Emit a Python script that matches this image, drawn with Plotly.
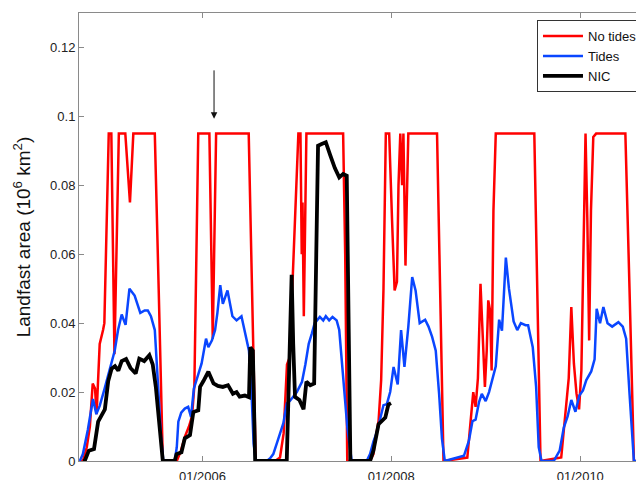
import plotly.graph_objects as go

# ---- data ----
nt_dates = [
    "2004-09-14", "2004-09-26", "2004-10-11", "2004-10-23", "2004-11-03", "2004-11-12", "2004-11-18",
    "2004-11-26", "2004-11-30", "2004-12-13", "2004-12-18", "2005-01-04", "2005-01-14", "2005-01-26",
    "2005-02-12", "2005-03-09", "2005-03-27", "2005-04-09", "2005-07-01", "2005-07-16", "2005-08-01",
    "2005-09-24", "2005-10-10", "2005-10-25", "2005-11-10", "2005-11-22", "2005-12-01", "2005-12-16",
    "2006-01-28", "2006-02-10", "2006-02-23", "2006-06-29", "2006-07-12", "2006-07-26",
    "2006-10-09", "2006-10-28", "2006-11-11", "2006-11-24", "2006-12-04", "2007-01-07", "2007-01-15",
    "2007-01-20", "2007-01-23", "2007-01-28", "2007-02-07", "2007-06-29", "2007-07-07", "2007-07-15",
    "2007-10-11", "2007-10-24", "2007-10-31", "2007-11-13", "2007-11-23", "2007-12-02", "2007-12-11",
    "2007-12-24", "2008-01-04", "2008-01-14", "2008-01-23", "2008-01-29", "2008-02-05", "2008-02-12",
    "2008-02-17", "2008-02-25", "2008-03-01", "2008-03-07", "2008-06-26", "2008-07-09", "2008-07-21",
    "2008-10-21", "2008-11-02", "2008-11-13", "2008-11-22", "2008-12-01", "2008-12-11", "2008-12-20",
    "2008-12-28", "2009-01-04", "2009-01-10", "2009-01-17", "2009-01-23", "2009-01-30", "2009-02-08",
    "2009-07-07", "2009-07-19", "2009-07-31",
    "2009-10-19", "2009-11-08", "2009-11-17", "2009-11-27", "2009-12-07", "2009-12-17", "2009-12-27",
    "2010-01-05", "2010-01-14", "2010-01-21", "2010-01-28", "2010-02-04", "2010-02-11", "2010-02-20",
    "2010-03-03", "2010-06-24", "2010-07-10", "2010-07-27", "2010-09-03",
]
nt_vals = [
    0, 0, 0.004, 0.010, 0.0225, 0.021, 0.0136,
    0.025, 0.034, 0.038, 0.040, 0.095, 0.095, 0.031,
    0.095, 0.095, 0.075, 0.095, 0.095, 0.050, 0,
    0, 0.003, 0.007, 0.010, 0.013, 0.022, 0.095,
    0.095, 0.0355, 0.095, 0.095, 0.050, 0,
    0, 0.001, 0.008, 0.028, 0.030, 0.095, 0.095,
    0.060, 0.075, 0.042, 0.095, 0.095, 0.060, 0,
    0, 0.002, 0.006, 0.0116, 0.0235, 0.050, 0.095,
    0.095, 0.070, 0.0495, 0.052, 0.080, 0.095, 0.080,
    0.095, 0.0567, 0.075, 0.095, 0.095, 0.050, 0,
    0.001, 0.010, 0.020, 0.0157, 0.024, 0.0514, 0.034,
    0.0215, 0.032, 0.0466, 0.0437, 0.0263, 0.0726, 0.095,
    0.095, 0.050, 0,
    0.001, 0.0167, 0.024, 0.0447, 0.0283, 0.0196, 0.015,
    0.0263, 0.068, 0.095, 0.070, 0.035, 0.0726, 0.094,
    0.095, 0.095, 0.050, 0, 0,
]

td_dates = [
    "2004-09-14", "2004-09-26", "2004-10-15", "2004-11-04", "2004-11-17", "2004-11-30", "2004-12-19",
    "2005-01-07", "2005-01-27", "2005-02-09", "2005-02-23", "2005-03-10", "2005-03-25", "2005-04-14",
    "2005-05-06", "2005-05-23", "2005-06-04", "2005-06-16", "2005-07-01", "2005-07-12", "2005-07-25",
    "2005-08-03",
    "2005-09-16", "2005-09-24", "2005-09-30", "2005-10-11", "2005-10-25", "2005-11-07", "2005-11-18",
    "2005-11-29", "2005-12-16", "2005-12-29", "2006-01-15", "2006-01-24", "2006-02-07", "2006-02-19",
    "2006-02-28", "2006-03-11", "2006-03-21", "2006-04-08", "2006-04-27", "2006-05-13", "2006-06-01",
    "2006-06-18", "2006-06-30", "2006-07-10", "2006-07-18", "2006-07-26",
    "2006-09-07", "2006-09-20", "2006-10-02", "2006-10-15", "2006-10-28", "2006-11-10", "2006-11-23",
    "2006-12-06", "2007-01-01", "2007-01-21", "2007-02-03", "2007-02-16", "2007-02-28", "2007-03-11",
    "2007-03-31", "2007-04-13", "2007-04-23", "2007-05-06", "2007-05-19", "2007-06-04", "2007-06-14",
    "2007-06-29", "2007-07-15", "2007-08-01",
    "2007-09-28", "2007-10-11", "2007-10-24", "2007-11-07", "2007-11-19", "2007-12-02", "2007-12-15",
    "2007-12-28", "2008-01-10", "2008-01-26", "2008-02-08", "2008-02-21", "2008-03-07", "2008-03-22",
    "2008-04-04", "2008-04-20", "2008-05-11", "2008-05-24", "2008-06-07", "2008-06-21", "2008-07-04",
    "2008-07-15", "2008-07-26",
    "2008-09-10", "2008-10-08", "2008-10-27", "2008-11-10", "2008-11-22", "2008-12-05", "2008-12-16",
    "2008-12-31", "2009-01-13", "2009-01-26", "2009-02-08", "2009-02-21", "2009-03-04", "2009-03-19",
    "2009-03-31", "2009-04-18", "2009-05-02", "2009-05-16", "2009-06-03", "2009-06-13", "2009-07-01",
    "2009-07-14", "2009-07-24", "2009-08-04",
    "2009-09-20", "2009-10-13", "2009-10-29", "2009-11-13", "2009-11-27", "2009-12-13", "2009-12-28",
    "2010-01-11", "2010-01-24", "2010-02-12", "2010-02-25", "2010-03-05", "2010-03-18", "2010-03-31",
    "2010-04-16", "2010-05-04", "2010-05-28", "2010-06-14", "2010-06-27", "2010-07-10", "2010-07-21",
    "2010-07-27", "2010-09-03",
]
td_vals = [
    0, 0.002, 0.009, 0.018, 0.0136, 0.016, 0.021,
    0.026, 0.032, 0.038, 0.0425, 0.0395, 0.050, 0.048,
    0.043, 0.0437, 0.0437, 0.042, 0.038, 0.024, 0.007,
    0,
    0, 0.004, 0.0114, 0.014, 0.0152, 0.0157, 0.0128,
    0.021, 0.0254, 0.0283, 0.0355, 0.033, 0.035, 0.038,
    0.043, 0.051, 0.0456, 0.0495, 0.042, 0.0408, 0.042,
    0.036, 0.032, 0.0196, 0.005, 0,
    0, 0.0008, 0.002, 0.005, 0.008, 0.011, 0.0167,
    0.0175, 0.020, 0.023, 0.028, 0.034, 0.037, 0.040,
    0.0418, 0.0408, 0.042, 0.0408, 0.0418, 0.0408, 0.038,
    0.0245, 0.010, 0,
    0, 0.002, 0.0056, 0.0085, 0.0124, 0.0162, 0.0165,
    0.0201, 0.0273, 0.0222, 0.038, 0.0273, 0.039, 0.0534,
    0.0495, 0.040, 0.041, 0.039, 0.036, 0.032, 0.0195,
    0.0065, 0,
    0.001, 0.0015, 0.0058, 0.0116, 0.012, 0.017, 0.0195,
    0.0174, 0.020, 0.024, 0.0275, 0.041, 0.0378, 0.059,
    0.050, 0.0405, 0.038, 0.040, 0.0394, 0.0394, 0.033,
    0.0215, 0.004, 0,
    0, 0.003, 0.0097, 0.013, 0.0177, 0.0143, 0.019,
    0.0205, 0.0235, 0.026, 0.0295, 0.0442, 0.040, 0.0447,
    0.040, 0.039, 0.0403, 0.039, 0.0355, 0.0196, 0.005,
    0, 0,
]

nic_dates = [
    "2004-09-26", "2004-10-03", "2004-10-19", "2004-11-08", "2004-11-24", "2004-12-07", "2004-12-20",
    "2005-01-02", "2005-01-15", "2005-01-28", "2005-02-10", "2005-02-23", "2005-03-12", "2005-03-29",
    "2005-04-18", "2005-05-02", "2005-05-21", "2005-06-10", "2005-06-23", "2005-07-05", "2005-07-18",
    "2005-08-01",
    "2005-09-16", "2005-09-23", "2005-10-12", "2005-10-25", "2005-11-14", "2005-11-27", "2005-12-16",
    "2005-12-23", "2006-01-05", "2006-01-24", "2006-02-13", "2006-03-02", "2006-03-21", "2006-04-10",
    "2006-04-29", "2006-05-13", "2006-05-25", "2006-06-14", "2006-06-30", "2006-07-05", "2006-07-15",
    "2006-07-24",
    "2006-11-23", "2006-12-03", "2006-12-12", "2006-12-18", "2006-12-25", "2007-01-11", "2007-01-27",
    "2007-02-07", "2007-02-22", "2007-03-09", "2007-03-18", "2007-03-24", "2007-04-07", "2007-04-23",
    "2007-05-09", "2007-05-28", "2007-06-14", "2007-06-29", "2007-07-13", "2007-07-19", "2007-07-27",
    "2007-10-11", "2007-10-24", "2007-11-13", "2007-11-26", "2007-12-09", "2007-12-15", "2007-12-21",
    "2007-12-31",
]
nic_vals = [
    0, 0, 0.003, 0.0035, 0.0114, 0.0135, 0.015,
    0.0232, 0.0268, 0.0275, 0.0262, 0.029, 0.0296, 0.027,
    0.0254, 0.0297, 0.029, 0.0307, 0.028, 0.0215, 0.010,
    0,
    0, 0.002, 0.0025, 0.0066, 0.0075, 0.0142, 0.0147,
    0.0215, 0.0232, 0.0259, 0.0225, 0.0218, 0.0215, 0.022,
    0.0195, 0.020, 0.0187, 0.019, 0.0185, 0.033, 0.032,
    0,
    0, 0.024, 0.054, 0.034, 0.0186, 0.0177, 0.015,
    0.023, 0.022, 0.0225, 0.063, 0.0915, 0.092, 0.0925,
    0.089, 0.085, 0.0823, 0.0833, 0.0828, 0.053, 0,
    0, 0.003, 0.0107, 0.0116, 0.0126, 0.0145, 0.0164,
    0.0168,
]

x_tick_vals = ["2006-01-01", "2008-01-01", "2010-01-01"]
x_tick_text = ["01/2006", "01/2008", "01/2010"]
y_tick_vals = [0, 0.02, 0.04, 0.06, 0.08, 0.1, 0.12]
y_tick_text = ["0", "0.02", "0.04", "0.06", "0.08", "0.1", "0.12"]

arrow_date = "2006-02-15"
arrow_head, arrow_tail = 0.0993, 0.1135

FONT = "Liberation Sans, Arial, Helvetica, sans-serif"
AX = "#8a8a8a"

fig = go.Figure()
fig.add_trace(go.Scatter(x=nt_dates, y=nt_vals, mode="lines", name="No tides",
                         line=dict(color="#ff0000", width=2.5)))
fig.add_trace(go.Scatter(x=td_dates, y=td_vals, mode="lines", name="Tides",
                         line=dict(color="#0a46ff", width=2.5)))
fig.add_trace(go.Scatter(x=nic_dates, y=nic_vals, mode="lines", name="NIC",
                         line=dict(color="#000000", width=3.8)))

axis_common = dict(
    ticks="inside", ticklen=5, tickcolor=AX, tickwidth=1,
    showline=True, linecolor=AX, linewidth=1, mirror="ticks",
    showgrid=False, zeroline=False,
    tickfont=dict(family=FONT, size=13, color="#222222"),
)

# the page body has an 8px margin, so the figure is sized/offset to land on the reference frame
fig.update_layout(
    width=636, height=472,
    margin=dict(l=71, r=0, t=5, b=19, autoexpand=False),
    paper_bgcolor="white", plot_bgcolor="white",
    font=dict(family=FONT, color="#111111"),
    xaxis=dict(type="date", range=["2004-09-11", "2010-09-04"],
               tickmode="array", tickvals=x_tick_vals, ticktext=x_tick_text,
               ticklabelstandoff=3, **axis_common),
    yaxis=dict(range=[0, 0.13], tickmode="array", tickvals=y_tick_vals, ticktext=y_tick_text,
               title=dict(text="Landfast area (10<sup>6</sup> km<sup>2</sup>)",
                          font=dict(family=FONT, size=19, color="#111111"), standoff=14),
               **axis_common),
    legend=dict(x=0.8106, xanchor="left", y=0.984, yanchor="top", itemwidth=40,
                bgcolor="white", bordercolor="#333333", borderwidth=1,
                font=dict(family=FONT, size=13, color="#111111")),
    showlegend=True,
)

fig.add_annotation(x=arrow_date, y=arrow_head, ax=arrow_date, ay=arrow_tail,
                   xref="x", yref="y", axref="x", ayref="y",
                   text="", font=dict(size=2), borderpad=0,
                   showarrow=True, arrowhead=2, arrowsize=1.3,
                   arrowwidth=1, arrowcolor="#111111")

fig.write_html("out.html")
